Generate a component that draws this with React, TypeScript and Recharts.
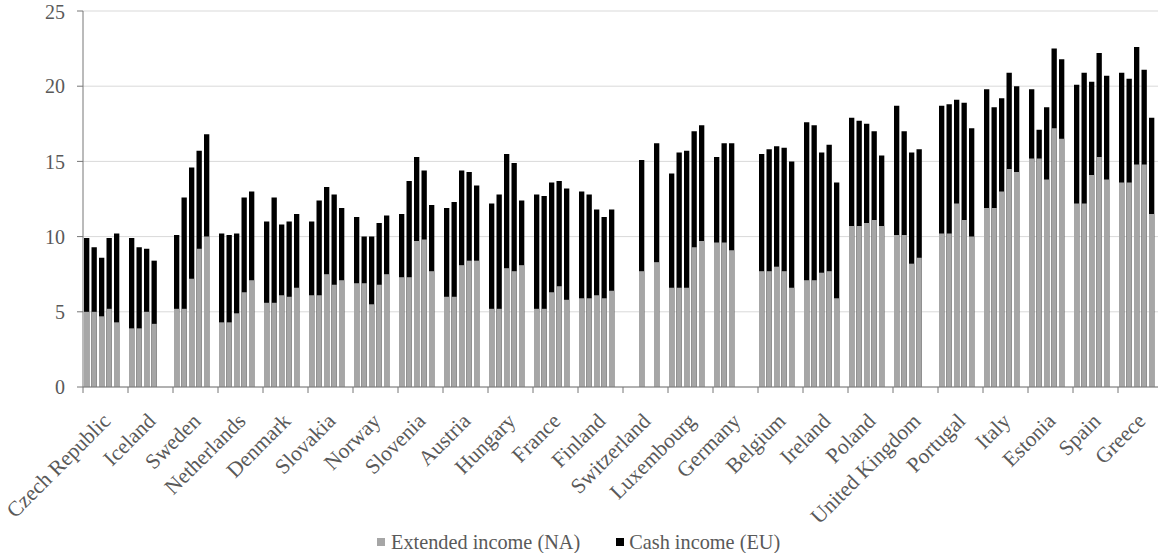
import { Bar, BarChart, CartesianGrid, Legend, XAxis, YAxis } from "recharts";

const countries = [
  "Czech Republic", "Iceland", "Sweden", "Netherlands", "Denmark", "Slovakia", "Norway",
  "Slovenia", "Austria", "Hungary", "France", "Finland", "Switzerland", "Luxembourg",
  "Germany", "Belgium", "Ireland", "Poland", "United Kingdom", "Portugal", "Italy",
  "Estonia", "Spain", "Greece",
];

// one row per country, five years each (null = no data)
const extendedIncome: (number | null)[][] = [
  [5.0, 5.0, 4.7, 5.2, 4.3],
  [3.9, 3.9, 5.0, 4.2, null],
  [5.2, 5.2, 7.2, 9.2, 10.0],
  [4.3, 4.3, 4.9, 6.3, 7.1],
  [5.6, 5.6, 6.1, 6.0, 6.6],
  [6.1, 6.1, 7.5, 6.8, 7.1],
  [6.9, 6.9, 5.5, 6.8, 7.5],
  [7.3, 7.3, 9.7, 9.8, 7.7],
  [6.0, 6.0, 8.1, 8.4, 8.4],
  [5.2, 5.2, 7.9, 7.7, 8.1],
  [5.2, 5.2, 6.3, 6.7, 5.8],
  [5.9, 5.9, 6.1, 5.9, 6.4],
  [null, null, 7.7, null, 8.3],
  [6.6, 6.6, 6.6, 9.3, 9.7],
  [9.6, 9.6, 9.1, null, null],
  [7.7, 7.7, 8.0, 7.7, 6.6],
  [7.1, 7.1, 7.6, 7.7, 5.9],
  [10.7, 10.7, 10.9, 11.1, 10.7],
  [10.1, 10.1, 8.2, 8.6, null],
  [10.2, 10.2, 12.2, 11.1, 10.0],
  [11.9, 11.9, 13.0, 14.5, 14.3],
  [15.2, 15.2, 13.8, 17.2, 16.5],
  [12.2, 12.2, 14.1, 15.3, 13.8],
  [13.6, 13.6, 14.8, 14.8, 11.5],
];

const cashIncome: (number | null)[][] = [
  [9.9, 9.3, 8.6, 9.9, 10.2],
  [9.9, 9.3, 9.2, 8.4, null],
  [10.1, 12.6, 14.6, 15.7, 16.8],
  [10.2, 10.1, 10.2, 12.6, 13.0],
  [11.0, 12.6, 10.8, 11.0, 11.5],
  [11.0, 12.4, 13.3, 12.8, 11.9],
  [11.3, 10.0, 10.0, 10.9, 11.4],
  [11.5, 13.7, 15.3, 14.4, 12.1],
  [11.9, 12.3, 14.4, 14.3, 13.4],
  [12.2, 12.8, 15.5, 14.9, 12.4],
  [12.8, 12.7, 13.6, 13.7, 13.2],
  [13.0, 12.8, 11.8, 11.3, 11.8],
  [null, null, 15.1, null, 16.2],
  [14.2, 15.6, 15.7, 17.0, 17.4],
  [15.3, 16.2, 16.2, null, null],
  [15.5, 15.8, 16.0, 15.9, 15.0],
  [17.6, 17.4, 15.6, 16.1, 13.6],
  [17.9, 17.7, 17.5, 17.0, 15.4],
  [18.7, 17.0, 15.6, 15.8, null],
  [18.7, 18.8, 19.1, 18.9, 17.2],
  [19.8, 18.6, 19.2, 20.9, 20.0],
  [19.8, 17.1, 18.6, 22.5, 21.8],
  [20.1, 20.9, 20.3, 22.2, 20.7],
  [20.9, 20.5, 22.6, 21.1, 17.9],
];

const yTicks = [0, 5, 10, 15, 20, 25];

const SLOTS = 6; // 5 years + 1 empty gap slot per country
const VIEW_W = 1158;
const VIEW_H = 553;
const Y_AXIS_W = 83;
const GROUP_W = 45;
const PLOT_W = GROUP_W * countries.length;
const MARGIN = { top: 11, right: 5, left: 0, bottom: 0 };
// plot runs slightly past the visible area, as in the source picture
const CHART_W = Y_AXIS_W + PLOT_W + MARGIN.right;
const SLOT_W = GROUP_W / SLOTS;
const BAR_W = SLOT_W * 0.71;

const FONT = "'Liberation Serif', 'Times New Roman', serif";
const TEXT = "#595959";
const AXIS = "#767676";
const GREY = "#a6a6a6";

const data = countries.flatMap((country, i) =>
  Array.from({ length: SLOTS }, (_, k) => ({
    key: `${country}-${k}`,
    country,
    slot: k,
    extended: extendedIncome[i][k] ?? null,
    cash: cashIncome[i][k] ?? null,
  }))
);
const byKey = new Map(data.map((d) => [d.key, d]));

const CountryTick = (props: any) => {
  const { x, y, payload } = props;
  const row = byKey.get(payload.value);
  if (!row) return null;
  const left = x - SLOT_W / 2;
  const isLast = row.country === countries[countries.length - 1] && row.slot === SLOTS - 1;
  const lx = left + 1;
  const ly = y + 30;
  return (
    <g>
      {row.slot === 0 && <line x1={left} x2={left} y1={y} y2={y + 6} stroke={AXIS} />}
      {isLast && <line x1={x + SLOT_W / 2} x2={x + SLOT_W / 2} y1={y} y2={y + 6} stroke={AXIS} />}
      {row.slot === 3 && (
        <text
          x={lx}
          y={ly}
          dy="0.35em"
          transform={`rotate(-45, ${lx}, ${ly})`}
          textAnchor="end"
          fontSize={21.5}
          fontFamily={FONT}
          fill={TEXT}
        >
          {row.country}
        </text>
      )}
    </g>
  );
};

const LegendContent = () => (
  <div
    style={{
      display: "flex",
      alignItems: "center",
      paddingLeft: 377,
      fontFamily: FONT,
      fontSize: 20.3,
      lineHeight: "22px",
      color: TEXT,
      whiteSpace: "nowrap",
    }}
  >
    <span style={{ width: 8, height: 8, background: GREY, display: "inline-block", marginRight: 6 }} />
    <span>Extended income (NA)</span>
    <span style={{ width: 8, height: 8, background: "#000", display: "inline-block", marginLeft: 36, marginRight: 5 }} />
    <span>Cash income (EU)</span>
  </div>
);

export default function App() {
  return (
    <div
      style={{
        position: "absolute",
        left: 0,
        top: 0,
        width: VIEW_W,
        height: VIEW_H,
        overflow: "hidden",
        background: "#fff",
      }}
    >
      <BarChart
        width={CHART_W}
        height={VIEW_H}
        data={data}
        margin={MARGIN}
        barSize={BAR_W}
        barGap={-BAR_W}
      >
        <CartesianGrid vertical={false} stroke="#d9d9d9" />
        <XAxis
          dataKey="key"
          interval={0}
          tickLine={false}
          tickSize={0}
          tickMargin={0}
          height={136}
          axisLine={{ stroke: AXIS }}
          tick={<CountryTick />}
        />
        <YAxis
          domain={[0, 25]}
          ticks={yTicks}
          width={Y_AXIS_W}
          tickSize={6}
          tickMargin={12}
          tickLine={{ stroke: AXIS }}
          axisLine={{ stroke: AXIS }}
          tick={{ fontSize: 20, fontFamily: FONT, fill: TEXT }}
        />
        <Bar dataKey="cash" name="Cash income (EU)" fill="#000" isAnimationActive={false} />
        <Bar dataKey="extended" name="Extended income (NA)" fill={GREY} isAnimationActive={false} />
        <Legend
          verticalAlign="bottom"
          height={30}
          content={<LegendContent />}
          wrapperStyle={{ left: 0, top: 531, width: VIEW_W }}
        />
      </BarChart>
    </div>
  );
}
